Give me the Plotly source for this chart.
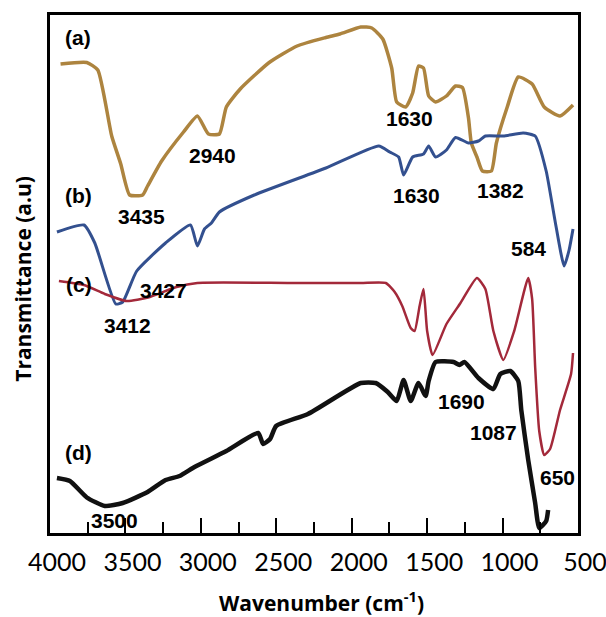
import plotly.graph_objects as go

# ---- data (wavenumber cm-1, transmittance a.u.) ----
wn_a = [3930, 3756, 3683, 3591, 3531, 3472, 3386, 3353, 3260, 3115, 3023, 2950, 2877, 2831, 2739, 2547,
        2362, 2171, 2078, 1940, 1867, 1794, 1735, 1702, 1642, 1596, 1557, 1524, 1490, 1444, 1372, 1312,
        1266, 1226, 1207, 1170, 1134, 1074, 1041, 969, 896, 804, 724, 619, 533]
t_a = [469, 470.5, 463, 397, 369, 338, 338, 347, 372, 401, 417, 399, 399, 426, 444, 470.5,
       487, 495.5, 499, 506, 505, 494, 465, 431, 426, 440, 467, 465, 437, 431, 437, 447,
       445.5, 415, 390, 376, 362, 362, 390, 426, 456, 449, 426, 417, 428]

wn_b = [3954, 3775, 3703, 3564, 3518, 3425, 3234, 3069, 3023, 2976, 2930, 2877, 2646, 2171, 1821, 1748,
        1689, 1656, 1596, 1524, 1490, 1444, 1372, 1312, 1226, 1160, 1114, 995, 863, 784, 711, 652,
        592, 559, 533]
t_b = [301, 308, 290, 229, 231, 262, 290, 308, 287, 304, 310, 321, 338, 365, 387, 381,
       376, 358, 376, 379, 387, 376, 383, 395.5, 390, 392, 397, 397, 400, 397, 362, 312,
       267, 283, 304]

wn_c = [3941, 3775, 3637, 3491, 3350, 3161, 3023, 2408, 1940, 1774, 1715, 1665, 1609, 1583, 1550, 1524,
        1500, 1464, 1372, 1279, 1170, 1114, 1061, 995, 923, 830, 804, 784, 757, 724, 685, 619, 546, 533]
t_c = [252, 248, 239, 232, 235.5, 246, 250, 250, 250, 250, 241, 227, 205, 202, 227, 244,
       202, 178, 209, 230, 255, 244, 202, 173, 202, 255, 234, 166, 102, 78, 84, 123, 159, 180]

wn_d = [3954, 3868, 3756, 3637, 3518, 3353, 3234, 3141, 3042, 2831, 2620, 2587, 2541, 2501, 2290, 1940,
        1841, 1761, 1702, 1656, 1609, 1557, 1510, 1490, 1444, 1325, 1286, 1253, 1160, 1061, 1015, 949,
        896, 876, 830, 784, 757, 711, 698]
t_d = [55, 52, 35.5, 27, 30, 41, 53, 57, 66, 82, 100, 89, 94, 107, 119, 150,
       150, 141, 132, 153, 132, 150, 137, 152, 171, 171, 168, 171, 155, 144, 159, 162,
       152, 123, 73, 30, 5, 12, 23]

tick_vals = [4000, 3500, 3000, 2500, 2000, 1500, 1000, 500]
tick_text = ["4000", "3500", "3000", "2500", "2000", "1500", "1000", "500"]

label_text = ["(a)", "(b)", "(c)", "(d)", "3435", "2940", "1630", "1630", "1382", "584",
              "3427", "3412", "1690", "1087", "650", "3500"]
label_wn = [3812, 3812, 3805, 3812, 3392, 2924, 1616, 1570, 1015, 830,
            3247, 3485, 1273, 1061, 639, 3571]
label_t = [495.5, 338, 249, 81, 317, 378, 415, 338, 343, 285,
           243, 208, 132, 101, 56, 13]

# ---- figure ----
series = [
    (wn_a, t_a, "#AD843F", 3.5),
    (wn_b, t_b, "#33508F", 3.0),
    (wn_c, t_c, "#A3293A", 2.5),
    (wn_d, t_d, "#111111", 4.5),
]

fig = go.Figure()
for wn, t, col, w in series:
    fig.add_trace(go.Scatter(x=wn, y=t, mode="lines",
                             line=dict(color=col, width=w, shape="spline", smoothing=0.5),
                             showlegend=False, hoverinfo="skip"))

for txt, xv, yv in zip(label_text, label_wn, label_t):
    fig.add_annotation(x=xv, y=yv, xref="x", yref="y", text="<b>" + txt + "</b>",
                       showarrow=False, font=dict(family="Liberation Sans, Arial", size=21, color="black"))

fig.add_annotation(x=0.515, y=-0.133, xref="paper", yref="paper", yanchor="middle",
                   text="<b>Wavenumber (cm<sup>-1</sup>)</b>", showarrow=False,
                   font=dict(family="Open Sans", size=21, color="black"))
fig.add_annotation(x=-0.05, y=0.49, xref="paper", yref="paper", xanchor="center",
                   text="<b>Transmittance (a.u)</b>", showarrow=False, textangle=-90,
                   font=dict(family="Open Sans", size=21, color="black"))

fig.update_layout(
    width=606, height=617,
    margin=dict(l=50, r=28, t=15, b=84, autoexpand=False),
    paper_bgcolor="white", plot_bgcolor="white",
    xaxis=dict(range=[4000, 500], tickmode="array", tickvals=tick_vals, ticktext=tick_text,
               ticks="inside", ticklen=15, tickwidth=1.5, tickcolor="black",
               minor=dict(dtick=250, tick0=0, ticks="inside", ticklen=11, tickwidth=1.5, tickcolor="black"),
               showline=True, linewidth=3, linecolor="black", mirror=True,
               showgrid=False, zeroline=False, automargin=False,
               tickfont=dict(family="Lato", size=25, color="black"),
               ticklabelshift=-7, ticklabelstandoff=5, ticklabeloverflow="allow"),
    yaxis=dict(range=[0, 518], showticklabels=False, ticks="",
               showline=True, linewidth=3, linecolor="black", mirror=True,
               showgrid=False, zeroline=False, automargin=False),
)

fig.write_html("out.html")
